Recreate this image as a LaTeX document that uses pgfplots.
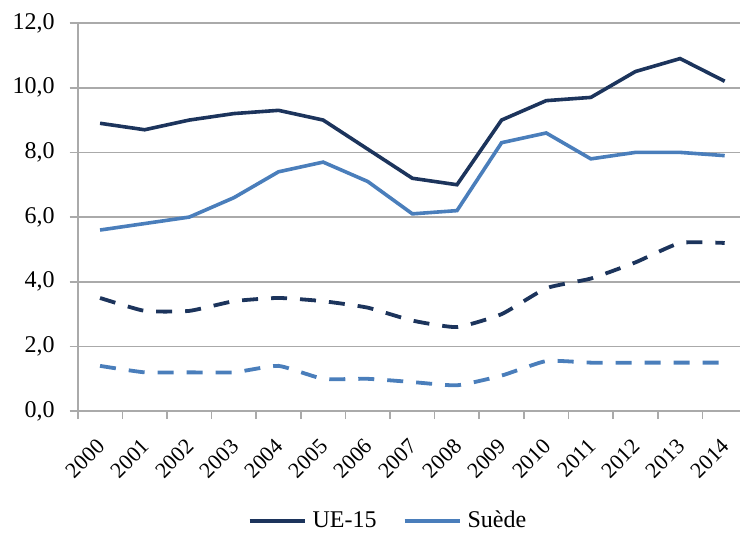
\documentclass[border=0pt]{standalone}
\usepackage{pgfplots}
\pgfplotsset{compat=1.18}
\usepackage{fontspec}
\setmainfont{Liberation Serif}
\usetikzlibrary{calc}
\definecolor{ue}{RGB}{28,52,92}
\definecolor{se}{RGB}{74,126,187}
\definecolor{gridgray}{RGB}{170,170,170}
\begin{document}
\begin{tikzpicture}[font=\fontsize{11bp}{13bp}\selectfont]
\begin{axis}[
  scale only axis,
  width=334.5bp, height=194bp,
  xmin=-0.5, xmax=14.5,
  ymin=0, ymax=12,
  axis x line*=bottom, axis y line*=left,
  axis line style={gridgray, line width=0.8bp},
  xtick={-0.5,0.5,...,14.5},
  x tick label as interval,
  xticklabels={2000,2001,2002,2003,2004,2005,2006,2007,2008,2009,2010,2011,2012,2013,2014},
  xticklabel style={xshift=-2.2bp, yshift=-7.5bp, rotate=45, anchor=north east, inner sep=1bp},
  ytick={0,2,...,12},
  /pgf/number format/fixed,
  /pgf/number format/fixed zerofill,
  /pgf/number format/precision=1,
  /pgf/number format/use comma,
  /pgf/number format/assume math mode=true,
  yticklabel style={xshift=-4bp, font=\fontsize{12bp}{14bp}\selectfont},
  tick align=outside,
  major tick length=4bp,
  tick style={gridgray, line width=0.8bp},
  ymajorgrids,
  major grid style={gridgray, line width=0.8bp},
  legend style={at={(0.465,-0.282)}, anchor=center, draw=none, legend columns=2,
    font=\fontsize{12bp}{14bp}\selectfont, inner sep=0pt,
    /tikz/every odd column/.append style={column sep=1bp},
    /tikz/every even column/.append style={column sep=11bp}},
  legend image code/.code={\draw[#1, line width=2bp] (0bp,0bp) -- (27.5bp,0bp);},
  legend cell align=left,
]
\addplot[ue, line width=1.8bp] coordinates {
(0,8.9) (1,8.7) (2,9.0) (3,9.2) (4,9.3) (5,9.0) (6,8.1) (7,7.2) (8,7.0) (9,9.0) (10,9.6) (11,9.7) (12,10.5) (13,10.9) (14,10.2)};
\addlegendentry{UE-15}
\addplot[se, line width=1.8bp] coordinates {
(0,5.6) (1,5.8) (2,6.0) (3,6.6) (4,7.4) (5,7.7) (6,7.1) (7,6.1) (8,6.2) (9,8.3) (10,8.6) (11,7.8) (12,8.0) (13,8.0) (14,7.9)};
\addlegendentry{Suède}
\addplot[ue, line width=1.9bp, dash pattern=on 8bp off 6.5bp, smooth, tension=0.3, forget plot] coordinates {
(0,3.5) (1,3.1) (2,3.1) (3,3.4) (4,3.5) (5,3.4) (6,3.2) (7,2.8) (8,2.6) (9,3.0) (10,3.8) (11,4.1) (12,4.6) (13,5.2) (14,5.2)};
\addplot[se, line width=1.9bp, dash pattern=on 8bp off 6.5bp, smooth, tension=0.3, forget plot] coordinates {
(0,1.4) (1,1.2) (2,1.2) (3,1.2) (4,1.4) (5,1.0) (6,1.0) (7,0.9) (8,0.8) (9,1.1) (10,1.55) (11,1.5) (12,1.5) (13,1.5) (14,1.5)};
\end{axis}
\pgfresetboundingbox
\path ($(current axis.south west)+(-38.85bp,-61bp)$) rectangle ($(current axis.north east)+(-3.5bp,11.5bp)$);
\end{tikzpicture}
\end{document}
